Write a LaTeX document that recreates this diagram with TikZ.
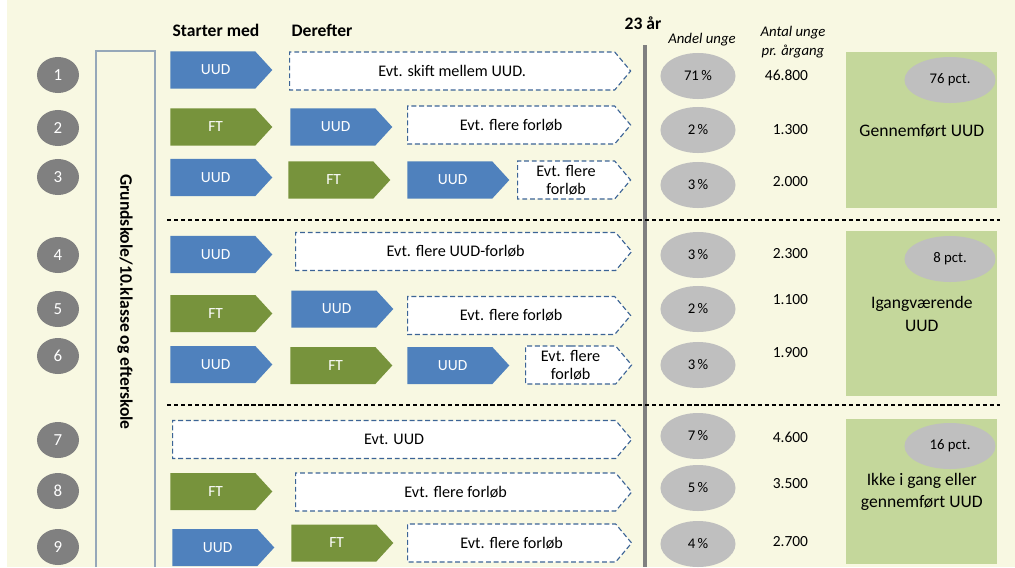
\documentclass[tikz,border=0pt]{standalone}
\usepackage{fontspec}
\setmainfont{Carlito}
\usepackage{tikz}
\usetikzlibrary{shapes.symbols, shapes.geometric, positioning}
\definecolor{BgCream}{RGB}{248,248,226}
\definecolor{UUDBlue}{RGB}{79,129,189}
\definecolor{FTGreen}{RGB}{119,147,60}
\definecolor{DashBlue}{RGB}{60,100,150}
\definecolor{CircGray}{RGB}{128,128,128}
\definecolor{OvalGray}{RGB}{191,191,191}
\definecolor{ResGreen}{RGB}{196,215,155}
\definecolor{BoxEdge}{RGB}{150,168,185}

\begin{document}
\begin{tikzpicture}[
    x=0.025cm, y=-0.025cm,
    pent/.style={signal, signal to=east, signal pointer angle=95,
                 minimum width=2.55cm, minimum height=0.925cm, inner sep=0pt,
                 anchor=west, text=white, font=\fontsize{11}{13}\selectfont},
    uud/.style={pent, fill=UUDBlue},
    ft/.style={pent, fill=FTGreen},
    evt/.style={signal, signal to=east, signal pointer angle=100,
                minimum height=0.95cm, inner sep=0pt, anchor=west,
                fill=white, draw=DashBlue, line width=0.8pt,
                dash pattern=on 3.5pt off 2pt, align=center,
                font=\fontsize{11.5}{13}\selectfont},
    numc/.style={ellipse, fill=CircGray, text=white, minimum width=1.05cm,
                 minimum height=0.9cm, inner sep=0pt,
                 font=\fontsize{12}{14}\selectfont},
    andel/.style={ellipse, fill=OvalGray, minimum width=1.875cm,
                  minimum height=1.15cm, inner sep=0pt,
                  font=\fontsize{10.5}{12}\selectfont},
    antal/.style={anchor=east, font=\fontsize{11}{13}\selectfont},
    res/.style={rectangle, anchor=north west, fill=ResGreen,
                minimum width=3.775cm, align=center,
                font=\fontsize{12.5}{16}\selectfont},
    head/.style={font=\fontsize{12.5}{14}\selectfont\bfseries},
    sub/.style={font=\fontsize{10.5}{13}\selectfont\itshape, align=center}
  ]
  \useasboundingbox (0,0) rectangle (1015,567);
  \fill[BgCream] (7,0) rectangle (1015,567);

  % headers
  \node[head] (hstart) at (216,30) {Starter med};
  \node[head] (hderef) at (322,30) {Derefter};
  \node[head] (halder) at (643,23) {23 år};
  \node[sub] (handel) at (702,40) {Andel unge};
  \node[sub] (hantal) at (793,42) {Antal unge\\pr. årgang};

  % school column
  \draw[BoxEdge, line width=0.8pt] (96,567) -- (96,51) -- (155,51) -- (155,567);
  \node[rotate=-90, font=\fontsize{12.5}{14}\selectfont\bfseries] (skole)
        at (125,302) {Grundskole/10.klasse og efterskole};

  % age line and separators
  \draw[CircGray, line width=3.5pt] (645,45) -- (645,567);
  \draw[dash pattern=on 3pt off 2pt, line width=0.9pt] (167,220) -- (1000,220);
  \draw[dash pattern=on 3pt off 2pt, line width=0.9pt] (167,405) -- (1000,405);

  % row numbers
  \foreach \i/\y in {1/75, 2/128, 3/177, 4/255, 5/309, 6/356, 7/440, 8/491, 9/547}{
    \node[numc] (c\i) at (58,\y) {\i};
  }

  % paths
  \node[uud] (r1a) at (170,70) {\hspace{4pt}UUD};
  \node[evt, minimum width=8.525cm] (r1e) at (289,71) {Evt. skift mellem UUD.};

  \node[ft]  (r2a) at (170,127) {\hspace{4pt}FT};
  \node[uud] (r2b) at (290,127) {\hspace{4pt}UUD};
  \node[evt, minimum width=5.575cm] (r2e) at (407,125) {Evt. flere forløb};

  \node[uud] (r3a) at (170,177.5) {\hspace{4pt}UUD};
  \node[ft]  (r3b) at (288,180) {\hspace{4pt}FT};
  \node[uud] (r3c) at (407,180) {\hspace{4pt}UUD};
  \node[evt, minimum width=2.825cm] (r3e) at (517,180) {Evt. flere\\forløb};

  \node[uud] (r4a) at (170,254.5) {\hspace{4pt}UUD};
  \node[evt, minimum width=8.4cm] (r4e) at (295,251.5) {Evt. flere UUD-forløb};

  \node[ft]  (r5a) at (170,313.5) {\hspace{4pt}FT};
  \node[uud] (r5b) at (291,309) {\hspace{4pt}UUD};
  \node[evt, minimum width=5.575cm] (r5e) at (407,315.5) {Evt. flere forløb};

  \node[uud] (r6a) at (170,364.5) {\hspace{4pt}UUD};
  \node[ft]  (r6b) at (290,365.5) {\hspace{4pt}FT};
  \node[uud] (r6c) at (407,365.5) {\hspace{4pt}UUD};
  \node[evt, minimum width=2.65cm] (r6e) at (525,365) {Evt. flere\\forløb};

  \node[evt, minimum width=11.475cm] (r7e) at (172,439.5) {Evt. UUD};

  \node[ft]  (r8a) at (170,491.5) {\hspace{4pt}FT};
  \node[evt, minimum width=8.4cm] (r8e) at (295,492) {Evt. flere forløb};

  \node[uud] (r9a) at (172,547.5) {\hspace{4pt}UUD};
  \node[ft]  (r9b) at (291,543) {\hspace{4pt}FT};
  \node[evt, minimum width=5.6cm] (r9e) at (407,543) {Evt. flere forløb};

  % shares and counts
  \foreach \i/\y/\p in {1/76/71, 2/130/2, 3/185/3, 4/255/3, 5/309/2,
                        6/365/3, 7/436/7, 8/488/5, 9/544/4}{
    \node[andel] (a\i) at (698,\y) {\p\,\%};
  }
  \foreach \i/\y/\n in {1/75/46.800, 2/130/1.300, 3/182/2.000, 4/254/2.300,
                        5/300/1.100, 6/353/1.900, 7/437/4.600, 8/484/3.500,
                        9/542/2.700}{
    \node[antal] (t\i) at (813,\y) {\n};
  }

  % outcomes
  \node[res, minimum height=3.9cm]   (g1) at (846,52)  {Gennemført UUD};
  \node[res, minimum height=4.125cm] (g2) at (846,231) {Igangværende\\UUD};
  \node[res, minimum height=3.625cm] (g3) at (846,419) {Ikke i gang eller\\gennemført UUD};
  \node[andel, minimum width=2.275cm] (p1) at (950,80)  {76 pct.};
  \node[andel, minimum width=2.275cm] (p2) at (950,259) {8 pct.};
  \node[andel, minimum width=2.275cm] (p3) at (950,446) {16 pct.};
\end{tikzpicture}
\end{document}
